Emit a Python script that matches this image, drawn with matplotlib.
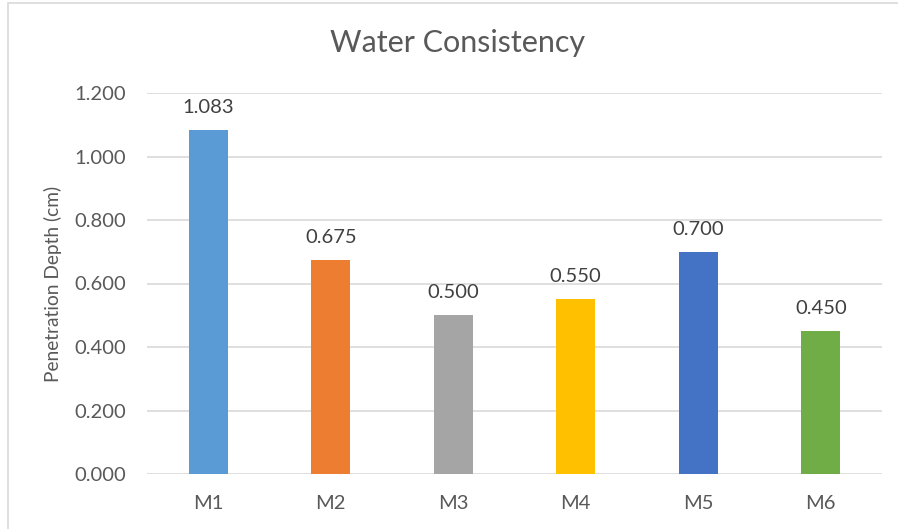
import matplotlib.pyplot as plt
from matplotlib.patches import Rectangle

categories = ['M1', 'M2', 'M3', 'M4', 'M5', 'M6']
depths = [1.083, 0.675, 0.500, 0.550, 0.700, 0.450]
bar_colors = ['#5B9BD5', '#ED7D31', '#A5A5A5', '#FFC000', '#4472C4', '#70AD47']
yticks = [0.0, 0.2, 0.4, 0.6, 0.8, 1.0, 1.2]

plt.rcParams['font.family'] = ['Lato', 'DejaVu Sans']
txt = '#595959'

W, H = 898, 529
fig = plt.figure(figsize=(W / 100, H / 100), dpi=100)
ax = fig.add_axes([147 / W, 1 - 474 / H, (882 - 147) / W, (474 - 93) / H])

x = range(len(categories))
bars = ax.bar(x, depths, width=0.32, color=bar_colors, zorder=3)
for b, v in zip(bars, depths):
    ax.annotate(f'{v:.3f}', (b.get_x() + b.get_width() / 2, v),
                xytext=(0, 10), textcoords='offset points',
                ha='center', va='bottom', fontsize=14.5, color='#404040')

ax.set_xlim(-0.5, len(categories) - 0.5)
ax.set_ylim(0, 1.2)
ax.set_yticks(yticks)
ax.set_yticklabels([f'{t:.3f}' for t in yticks])
ax.set_xticks(list(x))
ax.set_xticklabels(categories)
ax.tick_params(length=0, labelsize=14.5, colors=txt)
ax.tick_params(axis='x', pad=15)
ax.tick_params(axis='y', pad=15)
ax.grid(axis='y', color='#d9d9d9', linewidth=1.2, zorder=0)
for s in ax.spines.values():
    s.set_visible(False)
ax.set_ylabel('Penetration Depth (cm)', fontsize=13.8, color=txt)
ax.yaxis.set_label_coords(-0.115, 0.5)

fig.text(458 / W, 1 - 43 / H, 'Water Consistency', ha='center', va='center',
         fontsize=22, color=txt)

fig.add_artist(Rectangle((8 / W, -0.1), 1.2, 1.1 - 3 / H, transform=fig.transFigure,
                         fill=False, edgecolor='#d9d9d9', linewidth=1.2))

fig.savefig('out.png', dpi=100)
